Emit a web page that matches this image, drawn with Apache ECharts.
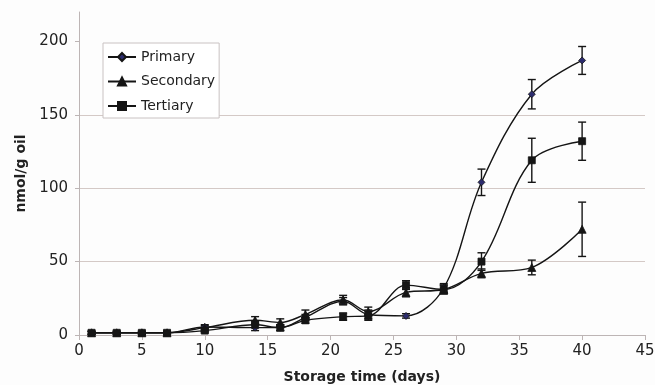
<!DOCTYPE html>
<html><head><meta charset="utf-8">
<script src="https://cdn.jsdelivr.net/npm/echarts@6/dist/echarts.min.js"></script>
<style>html,body{margin:0;padding:0;background:#fdfdfd}#c{width:655px;height:385px}</style>
</head><body><div id="c"></div>
<script>
const days = [1,3,5,7,10,14,16,18,21,23,26,29,32,36,40];
const primary      = [1.5,1.5,1.5,1.5,5.5,5,5,12,23,14,13,32,104,164,187];
const primaryErr   = [1,1,1,1,1.5,2,2,2,2.5,3,1.5,3,9,10,9.5];
const secondary    = [1.5,1.5,1.5,1.5,5,10,8.5,14,24,16,29,31,42,46,72];
const secondaryErr = [1,1,1,1,1.5,2.5,2.5,3,3,3,3,3,3,5,18.5];
const tertiary     = [1.5,1.5,1.5,1.5,3,7,5,10,12.5,13,34,31,50,119,132];
const tertiaryErr  = [1,1,1,1,1.5,2,2,2,2.5,3,3,3,6,15,13];
const yTicks = [0,50,100,150,200];
const xTicks = [0,5,10,15,20,25,30,35,40,45];

const ink = '#151515';
const font = 'DejaVu Sans, Liberation Sans, Arial, sans-serif';
function pts(v){ return days.map((d,i)=>[d,v[i]]); }
function errPts(v,e){ return days.map((d,i)=>[d,v[i]-e[i],v[i]+e[i]]); }
function errSeries(v,e,z){
  return {
    type:'custom', silent:true, z:z, data:errPts(v,e),
    renderItem:function(params, api){
      const x = api.value(0);
      const lo = api.coord([x, api.value(1)]);
      const hi = api.coord([x, api.value(2)]);
      const st = {stroke:ink, lineWidth:1.4};
      return {type:'group', children:[
        {type:'line', shape:{x1:lo[0],y1:lo[1],x2:hi[0],y2:hi[1]}, style:st},
        {type:'line', shape:{x1:lo[0]-4,y1:lo[1],x2:lo[0]+4,y2:lo[1]}, style:st},
        {type:'line', shape:{x1:hi[0]-4,y1:hi[1],x2:hi[0]+4,y2:hi[1]}, style:st}
      ]};
    }
  };
}
function lineSeries(name, v, symbol, size, fill){
  return {
    name:name, type:'line', data:pts(v), smooth:0.35, z:5,
    symbol:symbol, symbolSize:size, showSymbol:true,
    lineStyle:{color:ink, width:1.4},
    itemStyle:{color:fill, borderColor:ink, borderWidth:0.8}
  };
}
const chart = echarts.init(document.getElementById('c'), null, {renderer:'canvas'});
chart.setOption({
  animation:false,
  backgroundColor:'#fdfdfd',
  textStyle:{fontFamily:font},
  grid:{left:79, right:10, top:12, bottom:50, containLabel:false, outerBoundsMode:'none'},
  legend:{
    data:[
      {name:'Primary'},
      {name:'Secondary'},
      {name:'Tertiary'}
    ],
    orient:'vertical', left:103, top:43,
    backgroundColor:'#ffffff', borderColor:'#c9c2c2', borderWidth:1,
    padding:[7,4,5,4], itemGap:10.5, itemWidth:28, itemHeight:10,
    textStyle:{fontSize:14, color:'#222', fontFamily:font}
  },
  xAxis:{
    type:'value', min:0, max:45, interval:5,
    name:'Storage time (days)', nameLocation:'middle', nameGap:35,
    nameTextStyle:{fontSize:14, fontWeight:'bold', color:'#222', fontFamily:font},
    axisLine:{show:true, onZero:false, lineStyle:{color:'#bdb5b5', width:1}},
    axisTick:{show:true, length:5, lineStyle:{color:'#bdb5b5'}},
    axisLabel:{fontSize:15, color:'#222', margin:9, fontFamily:font,
      formatter:function(v){ return xTicks.indexOf(v)>=0 ? String(v) : ''; }},
    splitLine:{show:false}
  },
  yAxis:{
    type:'value', min:0, max:220, interval:50,
    name:'nmol/g oil', nameLocation:'middle', nameGap:48, nameRotate:90,
    nameTextStyle:{fontSize:14, fontWeight:'bold', color:'#222', fontFamily:font},
    axisLine:{show:true, lineStyle:{color:'#bdb5b5', width:1}},
    axisTick:{show:true, length:4, lineStyle:{color:'#bdb5b5'}, customValues: yTicks},
    axisLabel:{fontSize:15, color:'#222', margin:11, fontFamily:font, customValues: yTicks,
      formatter:function(v){ return yTicks.indexOf(v)>=0 ? String(v) : ''; }},
    splitLine:{show:true, showMaxLine:false, lineStyle:{color:'#d4c9c6', width:1}}
  },
  series:[
    errSeries(primary, primaryErr, 3),
    errSeries(secondary, secondaryErr, 3),
    errSeries(tertiary, tertiaryErr, 3),
    lineSeries('Primary', primary, 'diamond', 7, '#2c2c6e'),
    lineSeries('Secondary', secondary, 'triangle', 8, ink),
    lineSeries('Tertiary', tertiary, 'rect', 7, ink)
  ]
});
</script></body></html>
